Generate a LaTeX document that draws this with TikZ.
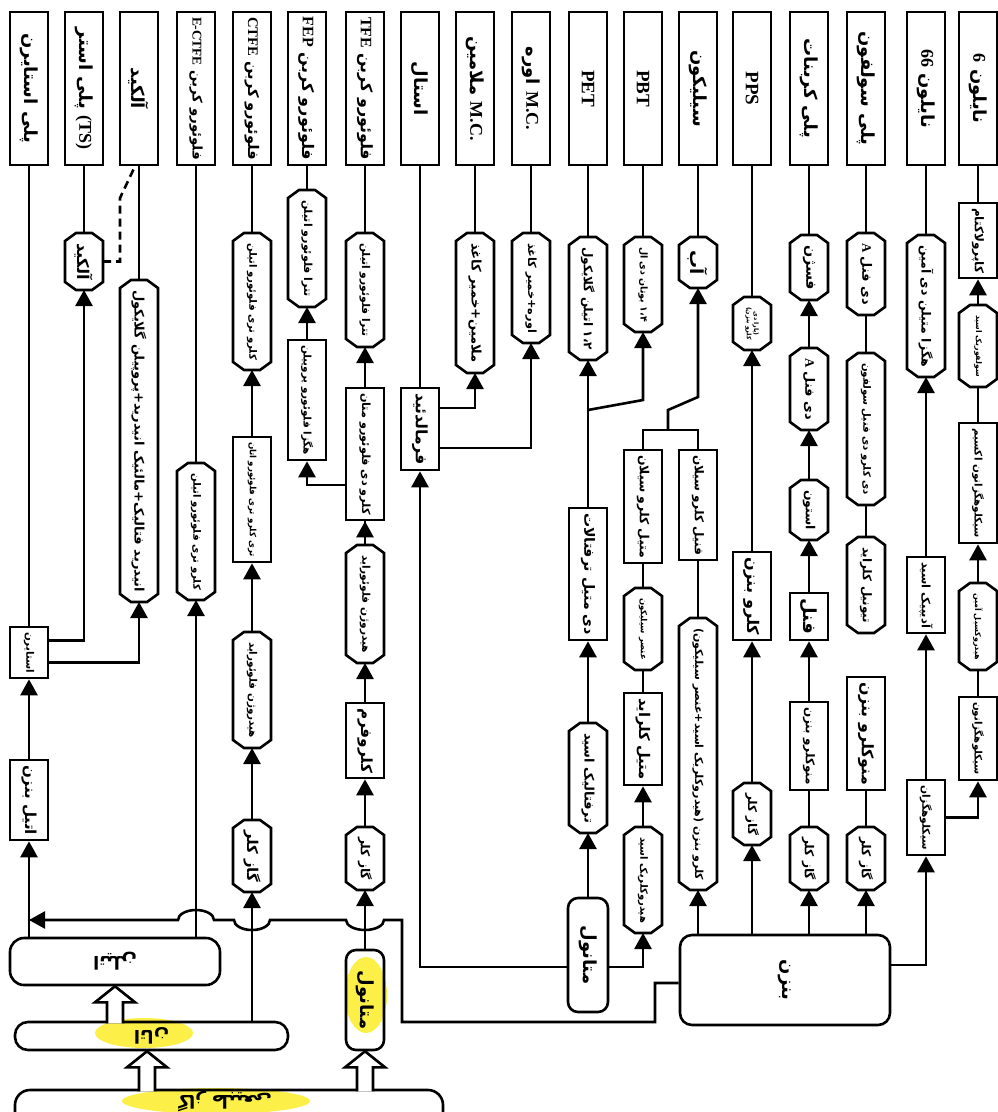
\documentclass[tikz,border=0pt]{standalone}
\usepackage{fontspec}
\usepackage{graphicx}
\usetikzlibrary{calc,arrows.meta}
\newfontfamily\fa[Script=Arabic,BoldFont={DejaVu Sans Bold}]{DejaVu Sans}
\newfontfamily\lat{Liberation Serif}
\TeXXeTstate=1
\definecolor{hl}{RGB}{250,236,40}
\newsavebox\lblbox
\newcommand\fitlbl[2]{\sbox\lblbox{#2}\ifdim\wd\lblbox>#1pt\relax\resizebox{#1pt}{!}{\usebox\lblbox}\else\usebox\lblbox\fi}
\newcommand\fr[1]{\beginR #1\endR}
\newcommand\la[1]{\beginL{\lat\bfseries\fontsize{18}{20}\selectfont #1}\endL}
\newcommand\lt[1]{{\lat\bfseries\fontsize{19}{21}\selectfont #1}}
\newcommand\mkrect[5]{%
  \pgfmathsetmacro\yc{(#3+#4)/2}\pgfmathsetmacro\hh{#4-#3}\pgfmathsetmacro\mw{#4-#3-10}%
  \node[rectbox,minimum height=\hh pt] (#1) at (#2,\yc) {\rotatebox{-90}{\fitlbl{\mw}{#5}}};}
\newcommand\mkhex[5]{%
  \pgfmathsetmacro\yc{(#3+#4)/2}\pgfmathsetmacro\hh{#4-#3}\pgfmathsetmacro\mw{#4-#3-20}%
  \node[hexin,minimum height=\hh pt] (#1) at (#2,\yc) {\rotatebox{-90}{\fitlbl{\mw}{#5}}};
  \draw[ln] ($(#1.north west)+(0,8)$) -- ($(#1.north west)+(11,0)$) -- ($(#1.north east)+(-11,0)$) -- ($(#1.north east)+(0,8)$) -- ($(#1.south east)+(0,-8)$) -- ($(#1.south east)+(-11,0)$) -- ($(#1.south west)+(11,0)$) -- ($(#1.south west)+(0,-8)$) -- cycle;}
\newcommand\hollowar[2]{%
  \draw[ln,fill=white] let \p1=#1, \p2=#2 in (\x1-8pt,\y1-2.6pt) -- (\x1-8pt,\y2-16pt) -- (\x1-20pt,\y2-16pt) -- (\x1,\y2) -- (\x1+20pt,\y2-16pt) -- (\x1+8pt,\y2-16pt) -- (\x1+8pt,\y1-2.6pt);}
\begin{document}
\begin{tikzpicture}[x=1pt,y=-1pt,
  ln/.style={line width=2.6pt,line join=miter},
  ar/.style={ln,-{Triangle[length=16pt,width=17pt]}},
  every node/.style={font=\fa\bfseries\fontsize{18}{21}\selectfont},
  rectbox/.style={draw,line width=2.6pt,minimum width=38pt,inner sep=1pt},
  hexin/.style={minimum width=38pt,inner sep=1pt,outer sep=0pt},
  rbox/.style={draw,line width=2.6pt,rounded corners=12pt,inner sep=1pt}]
\useasboundingbox (0,0) rectangle (998,1112);
\clip (0,0) rectangle (998,1112);
% highlights
\fill[hl,opacity=0.85] (144,1033) ellipse [x radius=49,y radius=15];
\fill[hl,opacity=0.85] (216,1101) ellipse [x radius=94,y radius=13];
\fill[hl,opacity=0.85] (366,995) ellipse [x radius=21,y radius=38];
% top products
\mkrect{p0}{29}{12}{165}{\fr{پلی استایرن}}
\mkrect{p1}{84}{12}{165}{\fr{\la{(TS)} پلی استر}}
\mkrect{p2}{139}{12}{165}{\fr{آلکید}}
\mkrect{p3}{196}{12}{165}{\fr{فلوئورو کربن \la{E-CTFE}}}
\mkrect{p4}{252}{12}{165}{\fr{فلوئورو کربن \la{CTFE}}}
\mkrect{p5}{307}{12}{165}{\fr{فلوئورو کربن \la{FEP}}}
\mkrect{p6}{365}{12}{165}{\fr{فلوئورو کربن \la{TFE}}}
\mkrect{p7}{420}{12}{165}{\fr{استال}}
\mkrect{p8}{475}{12}{165}{\fr{\la{M.C.} ملامین}}
\mkrect{p9}{531}{12}{165}{\fr{\la{M.C.} اوره}}
\mkrect{p10}{588}{12}{165}{\lt{PET}}
\mkrect{p11}{643}{12}{165}{\lt{PBT}}
\mkrect{p12}{698}{12}{165}{\fr{سیلیکون}}
\mkrect{p13}{752}{12}{165}{\lt{PPS}}
\mkrect{p14}{809}{12}{165}{\fr{پلی کربنات}}
\mkrect{p15}{866}{12}{165}{\fr{پلی سولفون}}
\mkrect{p16}{926}{12}{165}{\fr{نایلون \la{66}}}
\mkrect{p17}{978}{12}{165}{\fr{نایلون \la{6}}}
% col 0
\mkrect{sty}{29}{627}{678}{\fr{استایرن}}
\mkrect{eb}{29}{760}{840}{\fr{اتیل بنزن}}
% col 1,2
\mkhex{alk}{84}{233}{290}{\fr{آلکید}}
\mkhex{pa}{139}{280}{602}{\fr{انیدرید فتالیک+مالئیک انیدرید+پروپیلن گلایکول}}
% col 3
\mkhex{h3}{196}{463}{600}{\fr{کلرو تری فلوئورو اتیلن}}
% col 4
\mkhex{h4a}{252}{233}{370}{\fr{کلرو تری فلوئورو اتیلن}}
\mkrect{r4}{252}{437}{562}{\fr{تری کلرو تری فلوئورو اتان}}
\mkhex{h4b}{252}{632}{748}{\fr{هیدروژن فلوئوراید}}
\mkhex{h4c}{252}{820}{892}{\fr{گاز کلر}}
% col 5
\mkhex{h5}{307}{190}{307}{\fr{تترا فلوئورو اتیلن}}
\mkrect{r5}{307}{340}{460}{\fr{هگزا فلوئورو پروپیلن}}
% col 6
\mkhex{h6a}{365}{233}{347}{\fr{تترا فلوئورو اتیلن}}
\mkrect{r6a}{365}{388}{520}{\fr{کلرو دی فلوئورو متان}}
\mkhex{h6b}{365}{545}{663}{\fr{هیدروژن فلوئوراید}}
\mkrect{r6b}{365}{703}{778}{\fr{کلروفرم}}
\mkhex{h6c}{365}{827}{890}{\fr{گاز کلر}}
\node[rbox,rounded corners=10pt,minimum width=38pt,minimum height=100pt] (meth6) at (365,1000) {\rotatebox{-90}{\fr{متانول}}};
% col 7,8,9
\mkrect{form}{420}{388}{470}{\fr{فرمالدئید}}
\mkhex{h8}{475}{233}{373}{\fr{ملامین+خمیر کاغذ}}
\mkhex{h9}{531}{233}{343}{\fr{اوره+خمیر کاغذ}}
% col 10
\mkhex{h10}{588}{237}{360}{\fr{۱،۲ اتیلن گلایکول}}
\mkrect{dmt}{588}{508}{640}{\fr{دی متیل ترفتالات}}
\mkhex{tpa}{588}{723}{833}{\fr{ترفتالیک اسید}}
\node[rbox,rounded corners=10pt,minimum width=40pt,minimum height=114pt] (meth10) at (588,955) {\rotatebox{-90}{\fr{متانول}}};
% col 11
\mkhex{h11}{643}{237}{332}{\fr{۱،۴ بوتان دی ال}}
\mkrect{mcs}{643}{450}{563}{\fr{متیل کلرو سیلان}}
\mkhex{sie}{643}{588}{670}{\fr{عنصر سیلیکون}}
\mkrect{mecl}{643}{693}{785}{\fr{متیل کلراید}}
\mkhex{hcl}{643}{827}{933}{\fr{هیدروکلریک اسید}}
% col 12
\mkhex{wat}{698}{237}{288}{\fr{آب}}
\mkrect{pcs}{698}{450}{560}{\fr{فنیل کلرو سیلان}}
\mkhex{cbx}{698}{618}{890}{\fr{کلرو بنزن (هیدروکلریک اسید+عنصر سیلیکون)}}
% col 13
\mkhex{pdcb}{752}{297}{350}{\begin{tabular}{@{}c@{}}\fr{(پارا دی}\\\fr{کلرو بنزن)}\end{tabular}}
\mkrect{cb13}{752}{552}{640}{\fr{کلرو بنزن}}
\mkhex{cl13}{752}{783}{845}{\fr{گاز کلر}}
% col 14
\mkhex{phos}{809}{235}{300}{\fr{فسژن}}
\mkhex{bpa14}{809}{348}{430}{\fr{دی فنل \la{A}}}
\mkhex{ace}{809}{480}{540}{\fr{استون}}
\mkrect{phe}{809}{593}{640}{\fr{فنل}}
\mkrect{mcb14}{809}{702}{790}{\fr{منوکلرو بنزن}}
\mkhex{cl14}{809}{827}{890}{\fr{گاز کلر}}
% col 15
\mkhex{bpa15}{866}{233}{315}{\fr{دی فنل \la{A}}}
\mkhex{dcd}{866}{353}{505}{\fr{دی کلرو دی فنیل سولفون}}
\mkhex{thio}{866}{537}{633}{\fr{تیونیل کلراید}}
\mkrect{mcb15}{866}{677}{790}{\fr{منوکلرو بنزن}}
\mkhex{cl15}{866}{827}{890}{\fr{گاز کلر}}
% col 16
\mkhex{hmda}{926}{235}{377}{\fr{هگزا متیلن دی آمین}}
\mkrect{adip}{926}{557}{633}{\fr{آدیپیک اسید}}
\mkrect{chx}{926}{780}{855}{\fr{سیکلوهگزان}}
% col 17
\mkrect{capro}{978}{203}{278}{\fr{کاپرولاکتام}}
\mkhex{sulf}{978}{305}{387}{\fr{سولفوریک اسید}}
\mkrect{oxim}{978}{423}{543}{\fr{سیکلوهگزانون اکسیم}}
\mkhex{hyd}{978}{583}{670}{\fr{هیدروکسیل آمین}}
\mkrect{chxo}{978}{697}{780}{\fr{سیکلوهگزانون}}
% sources
\node[rbox,minimum width=210pt,minimum height=90pt] (benz) at (785,980) {\rotatebox{-90}{\fr{بنزن}}};
\node[rbox,rounded corners=14pt,minimum width=210pt,minimum height=47pt] (ety) at (115,961.5) {\rotatebox{180}{\fr{اتیلن}}};
\node[rbox,rounded corners=13pt,minimum width=273pt,minimum height=28pt] (etn) at (151.5,1036) {\rotatebox{180}{\fr{اتان}}};
\node[rbox,rounded corners=15pt,minimum width=428pt,minimum height=50pt] (gas) at (229,1115) {};
\node (gast) at (225,1101) {\rotatebox{180}{\fr{گاز طبیعی}}};
% product links
\foreach \a/\b in {p0/sty,p1/alk,p2/pa,p3/h3,p4/h4a,p5/h5,p6/h6a,p7/form,p8/h8,p9/h9,p10/h10,p11/h11,p12/wat,p13/pdcb,p14/phos,p15/bpa15,p16/hmda,p17/capro}
  \draw[ln] (\a.south) -- (\b.north);
% plain links
\foreach \a/\b in {r6a/h6b,mcs/sie,sie/mecl,pcs/cbx,mcb14/cl14,bpa15/dcd,dcd/thio,mcb15/cl15,sulf/oxim,hyd/chxo}
  \draw[ln] (\a.south) -- (\b.north);
% arrow links (lower to upper)
\foreach \a/\b in {eb/sty,r4/h4a,h4b/r4,h4c/h4b,r5/h5,r6a/h6a,h6b/r6a,r6b/h6b,h6c/r6b,meth6/h6c,dmt/h10,tpa/dmt,meth10/tpa,hcl/mecl,cb13/pdcb,cl13/cb13,bpa14/phos,ace/bpa14,phe/ace,mcb14/phe,adip/hmda,chx/adip,sulf/capro,hyd/oxim}
  \draw[ar] (\a.north) -- (\b.south);
\draw[ar] (eb.south |- ety.north) -- (eb.south);
\draw[ar] (h3.south |- ety.north) -- (h3.south);
\draw[ar] (h4c.south |- etn.north) -- (h4c.south);
\draw[ar] ($(sty.east)+(0,-12)$) -| (alk.south);
\draw[ar] ($(sty.east)+(0,10)$) -| (pa.south);
\coordinate (dk) at (120,198);
\draw[ln,dash pattern=on 8pt off 5pt] (alk.east) -| (dk) -- ($(p2.south)+(-4,0)$);
\draw[ar] ($(r6a.west)+(0,31)$) -| (r5.south);
\draw[ar] ($(meth10.west)+(0,12)$) -| (form.south);
\draw[ar] ($(form.east)+(0,-21)$) -| (h8.south);
\draw[ar] ($(form.east)+(0,19)$) -| (h9.south);
\draw[ar] ($(meth10.east)+(0,12)$) -| (hcl.south);
\coordinate (j10) at (588,410);
\draw[ar] (j10) -- ($(h11.south |- j10)+(0,-10)$) -- (h11.south);
\coordinate (jsi) at (668,430);
\draw[ln] (mcs.north) -- (mcs.north |- jsi) -- (pcs.north |- jsi) -- (pcs.north);
\draw[ar] (jsi) -- ++(0,-20) -- ($(wat.south |- jsi)+(0,-33)$) -- (wat.south);
\foreach \b in {cbx,cl13,cl14,cl15}
  \draw[ar] (\b.south |- benz.north) -- (\b.south);
\draw[ar] ($(benz.east)+(0,-15)$) -| (chx.south);
\draw[ar] (chx.east) -| (chxo.south);
\draw[ar] ($(benz.west)+(0,3)$) -- (655,983) -- (655,1022) -- (402,1022) -- (402,920) -- (384,920)
  arc[start angle=0,end angle=180,x radius=19,y radius=10] -- (270,920)
  arc[start angle=0,end angle=180,x radius=18,y radius=10] -- (214,920)
  arc[start angle=0,end angle=-180,x radius=18,y radius=10] -- (eb.south |- 0,920);
% hollow arrows
\coordinate (hxa) at (115,0);
\coordinate (hxb) at (147,0);
\hollowar{(hxa |- etn.north)}{(hxa |- ety.south)}
\hollowar{(hxb |- gas.north)}{(hxb |- etn.south)}
\hollowar{(meth6.south |- gas.north)}{(meth6.south)}
\end{tikzpicture}
\end{document}
